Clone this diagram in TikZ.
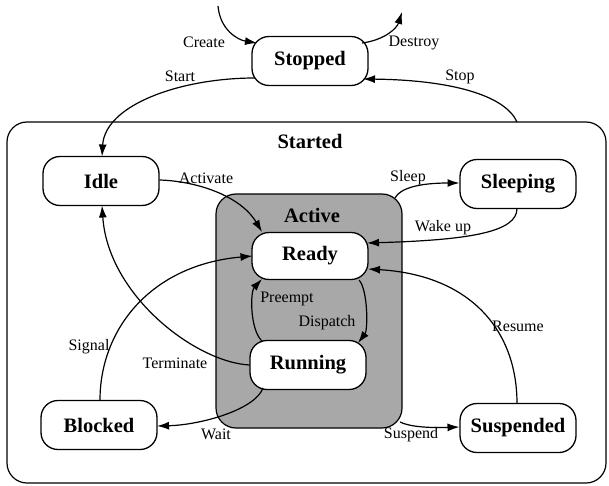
\documentclass[tikz,border=0pt]{standalone}
\usepackage{fontspec}
\setmainfont{Liberation Serif}
\usetikzlibrary{arrows.meta,calc}
\definecolor{activegray}{RGB}{168,168,168}
\tikzset{
  st/.style={draw, line width=1.3pt, rounded corners=17pt, minimum width=116pt,
    minimum height=49pt, fill=white, inner sep=0pt, outer sep=0pt,
    font=\fontsize{20.5}{20.5}\selectfont\bfseries},
  lbl/.style={inner sep=0pt, font=\fontsize{16}{16}\selectfont},
  ttl/.style={inner sep=0pt, font=\fontsize{20.5}{20.5}\selectfont\bfseries},
  tr/.style={line width=1.2pt, -{Latex[length=12pt,width=8pt]}},
}
\begin{document}
\begin{tikzpicture}[x=1pt,y=-1pt]
\useasboundingbox (0,0) rectangle (609,486);
% containers
\node[draw, line width=1.2pt, rounded corners=20pt, minimum width=599pt,
  minimum height=361pt, inner sep=0pt, outer sep=0pt] (started) at (306.5,302.5) {};
\node[draw, line width=1.2pt, rounded corners=20pt, fill=activegray, minimum width=186pt,
  minimum height=234pt, inner sep=0pt, outer sep=0pt] (active) at (309,311) {};
\node[ttl] (startedlbl) at (310,141) {Started};
\node[ttl] (activelbl) at (312,215) {Active};
% states
\node[st] (Stopped) at (310,61) {Stopped};
\node[st] (Idle) at (101,181) {Idle};
\node[st] (Sleeping) at (518,184) {Sleeping};
\node[st, minimum height=47pt] (Ready) at (310,256) {Ready};
\node[st] (Running) at (308,365) {Running};
\node[st] (Blocked) at (99,425) {Blocked};
\node[st] (Suspended) at (518,428) {Suspended};
% free ends
\coordinate (cA) at (218,6);
\coordinate (cD) at (402,12);
% transitions
\draw[tr] (cA) .. controls (220,30) and (238,40) .. ($(Stopped.center)+(-53,-18)$);
\draw[tr] ($(Stopped.center)+(52,-18)$) .. controls (385,40) and (397,28) .. (cD);
\draw[tr] ($(Stopped.center)+(-55,17)$) .. controls (180,78) and (105,105) .. ($(Idle.center)+(1,-24.5)$);
\draw[tr] ($(started.north)+(210.5,0)$) .. controls (505,95) and (450,80) .. ($(Stopped.center)+(53,18)$);
\draw[tr] ($(Idle.center)+(58.5,-1)$) .. controls (195,181) and (240,195) .. ($(Ready.center)+(-48,-24)$);
\draw[tr] ($(active.north east)+(-7,4)$) .. controls (400,188) and (420,183) .. ($(Sleeping.center)+(-58.5,-1)$);
\draw[tr] ($(Sleeping.center)+(-1,24.5)$) .. controls (517,232) and (470,240) .. ($(Ready.center)+(57,-13)$);
\draw[tr] ($(Suspended.center)+(-1,-24.5)$) .. controls (517,330) and (470,275) .. ($(Ready.center)+(58,13)$);
\draw[tr] ($(Blocked.center)+(1,-25)$) .. controls (100,330) and (150,265) .. ($(Ready.center)+(-57.5,0)$);
\draw[tr] ($(Running.center)+(-58.5,0)$) .. controls (195,362) and (108,295) .. ($(Idle.center)+(1,24.5)$);
\draw[tr] ($(Running.center)+(-45,23)$) .. controls (255,410) and (200,425) .. ($(Blocked.center)+(58,1)$);
\draw[tr] ($(active.south east)+(-2,-6)$) .. controls (410,427) and (430,428) .. ($(Suspended.center)+(-58.5,-1)$);
\draw[tr] ($(Running.center)+(-46,-24)$) .. controls (250,330) and (250,292) .. ($(Ready.center)+(-48,23)$);
\draw[tr] ($(Ready.center)+(49,24)$) .. controls (368,290) and (368,330) .. ($(Running.center)+(50,-22)$);
% labels
\node[lbl] (lcreate) at (204,42) {Create};
\node[lbl] (ldestroy) at (414,43) {Destroy};
\node[lbl] (lstart) at (180,76) {Start};
\node[lbl] (lstop) at (460,77) {Stop};
\node[lbl] (lactivate) at (206,178) {Activate};
\node[lbl] (lsleep) at (408,178) {Sleep};
\node[lbl] (lwake) at (443,228) {Wake up};
\node[lbl] (lpreempt) at (287,299) {Preempt};
\node[lbl] (ldispatch) at (327,323) {Dispatch};
\node[lbl] (lresume) at (518,326) {Resume};
\node[lbl] (lsignal) at (89,347) {Signal};
\node[lbl] (lterminate) at (175,363) {Terminate};
\node[lbl] (lwait) at (216,434) {Wait};
\node[lbl] (lsuspend) at (411,435) {Suspend};
\end{tikzpicture}
\end{document}
